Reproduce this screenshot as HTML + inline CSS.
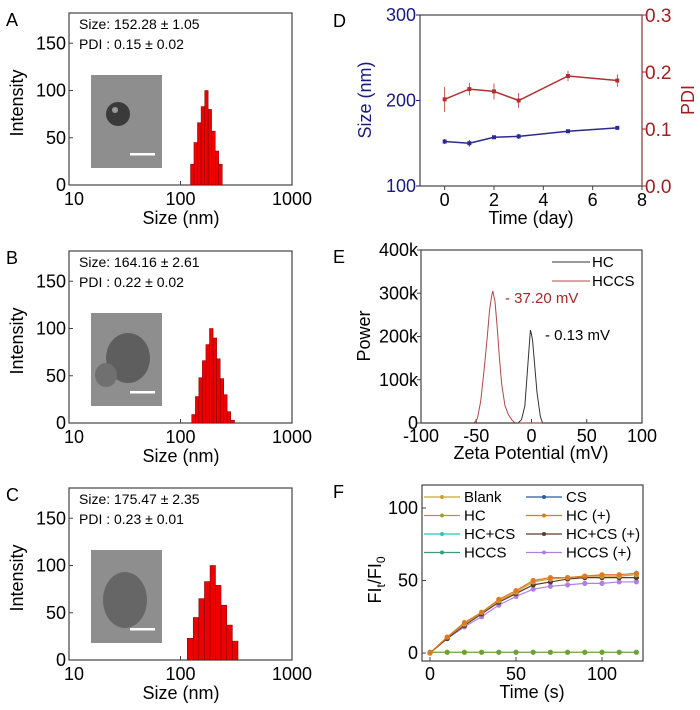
<!DOCTYPE html>
<html><head><meta charset="utf-8">
<style>
html,body{margin:0;padding:0;background:#fff;}
svg{display:block;font-family:"Liberation Sans",Arial,sans-serif;}
</style></head>
<body>
<svg id="fig" width="700" height="710" viewBox="0 0 700 710">
 <g id="gA"></g>
 <g id="gB"></g>
 <g id="gC"></g>
 <g id="gD"></g>
 <g id="gE"></g>
 <g id="gF"></g>
</svg>
<script>
// ---- Panel A/B/C data (bin edges in nm) ----
const binEdgesA = [123,132,142,153,165,177,190,205,220,237];
const heightsA  = [22,45,66,83,100,80,57,36,22];
const binEdgesB = [126,136,146,157,169,182,196,211,227,244,262,282,305];
const heightsB  = [9,28,48,66,83,100,90,68,47,30,12,3];
const binEdgesC = [115,130,146,164,184,206,231,260,292,328];
const heightsC  = [23,45,65,83,100,79,58,37,20];
const textsA = ["Size: 152.28 \u00b1 1.05","PDI : 0.15 \u00b1 0.02"];
const textsB = ["Size: 164.16 \u00b1 2.61","PDI : 0.22 \u00b1 0.02"];
const textsC = ["Size: 175.47 \u00b1 2.35","PDI : 0.23 \u00b1 0.01"];
const histYTicks = [0,50,100,150];
const histXTicks = [10,100,1000];
// ---- Panel D ----
const daysD = [0,1,2,3,5,7];
const sizeD = [152,150,157,158,164,168];
const sizeErrD = [3,4,2,3,2,2];
const pdiD = [0.152,0.170,0.166,0.150,0.193,0.185];
const pdiErrD = [0.022,0.011,0.014,0.013,0.009,0.011];
const dXTicks = [0,2,4,6,8];
const dYLTicks = [100,200,300];
const dYRTicks = ["0.0","0.1","0.2","0.3"];
// ---- Panel E ----
const hcX = [-100,-12,-9,-6,-4,-2,-1,0,1,3,5,8,10,100];
const hcY = [0,0,8,40,110,180,215,205,190,130,70,15,0,0];
const hccsX = [-100,-52,-49,-46,-43,-40,-38,-36,-35,-33,-31,-29,-27,-24,-21,-18,-15,100];
const hccsY = [0,0,10,50,120,200,260,295,305,280,220,150,90,40,20,8,0,0];
const eXTicks = [-100,-50,0,50,100];
const eYTicks = ["0","100k","200k","300k","400k"];
// ---- Panel F ----
const timeF = [0,10,20,30,40,50,60,70,80,90,100,110,120];
const hcPlus   = [0,11,21,28,37,43,50,52,52,53,54,54,55];
const hccsPlusMid = [0,11,20,28,36,42,49,51,52,53,53,53,54];
const hccsCsPlus = [0,10,19,27,35,41,47,49,51,52,52,52,52];
const hccsPlus = [0,10,18,25,33,39,44,46,47,48,48,49,49];
const flatF    = [0.5,0.5,0.5,0.5,0.5,0.5,0.5,0.5,0.5,0.5,0.5,0.5,0.5];
const fXTicks = [0,50,100];
const fYTicks = [0,50,100];
const legendF = ["Blank","CS","HC","HC (+)","HC+CS","HC+CS (+)","HCCS","HCCS (+)"];
const legendColors = ["#c9a23a","#2a5a9a","#a0a040","#e07a20","#30c0c0","#5a3a2a","#3a9a7a","#b080e0"];

const NS="http://www.w3.org/2000/svg";
function mk(parent,tag,attrs,name,text){
  const el=document.createElementNS(NS,tag);
  for(const k in attrs) el.setAttribute(k,attrs[k]);
  
  
  if(text!==undefined) el.textContent=text;
  parent.appendChild(el); return el;
}
function box(g,l,t,r,b){ mk(g,'rect',{x:l,y:t,width:r-l,height:b-t,fill:'none',stroke:'#444','stroke-width':1.2},'plot-frame'); }

function hist(g,top,edges,heights,texts,letter){
  const L=69,R=292,B=top+172;
  const sx=v=>L+(Math.log10(v)-1)*111.5;
  const sy=v=>B-v*0.945;
  mk(g,'text',{x:6,y:top+13,'font-size':18},'panel-label',letter);
  box(g,L,top,R,B);
  histYTicks.forEach(v=>{
    mk(g,'line',{x1:L,x2:L+4,y1:sy(v),y2:sy(v),stroke:'#444'},'y-tick');
    mk(g,'text',{x:L-3,y:sy(v)+6,'font-size':18,'text-anchor':'end'},'y-tick-label',String(v));
  });
  histXTicks.forEach(v=>{
    mk(g,'line',{x1:sx(v),x2:sx(v),y1:B,y2:B-4,stroke:'#444'},'x-tick');
    mk(g,'text',{x:sx(v)+(v===10?5:0),y:B+20,'font-size':18,'text-anchor':'middle'},'x-tick-label',String(v));
  });
  mk(g,'text',{x:181,y:B+39,'font-size':18,'text-anchor':'middle'},'x-axis-title','Size (nm)');
  mk(g,'text',{x:0,y:0,'font-size':18,'text-anchor':'middle',transform:`translate(23,${top+90}) rotate(-90)`},'y-axis-title','Intensity');
  heights.forEach((h,i)=>{
    const x0=sx(edges[i]),x1=sx(edges[i+1]);
    mk(g,'rect',{x:x0,y:sy(h),width:x1-x0,height:B-sy(h),fill:'#ee0000',stroke:'#7a0000','stroke-width':0.5},'histogram-bar');
  });
  mk(g,'text',{x:79,y:top+16,'font-size':14},'size-annotation',texts[0]);
  mk(g,'text',{x:79,y:top+36,'font-size':14},'pdi-annotation',texts[1]);
}
function inset(g,y,kind){
  mk(g,'rect',{x:91,y:y,width:71,height:93,fill:'#8e8e8e'},'tem-inset');
  if(kind===0){
    mk(g,'circle',{cx:118,cy:y+39,r:12,fill:'#3a3a3a'},'tem-particle');
    mk(g,'circle',{cx:115,cy:y+35,r:3,fill:'#9a9a9a'},'tem-particle-spot');
  } else if(kind===1){
    mk(g,'ellipse',{cx:128,cy:y+45,rx:22,ry:25,fill:'#5e5e5e'},'tem-particle');
    mk(g,'ellipse',{cx:106,cy:y+62,rx:11,ry:12,fill:'#707070'},'tem-particle');
  } else {
    mk(g,'ellipse',{cx:125,cy:y+50,rx:22,ry:28,fill:'#666'},'tem-particle');
  }
  mk(g,'rect',{x:130,y:y+78,width:25,height:2.5,fill:'#fff'},'scale-bar');
}
const gA=document.getElementById('gA'),gB=document.getElementById('gB'),gC=document.getElementById('gC');
inset(gA,75,0); inset(gB,313,1); inset(gC,550,2);
hist(gA,13,binEdgesA,heightsA,textsA,'A');
hist(gB,251,binEdgesB,heightsB,textsB,'B');
hist(gC,488,binEdgesC,heightsC,textsC,'C');

// ---- Panel D ----
(function(){
  const g=document.getElementById('gD');
  const L=420,R=642,T=15,B=186;
  const sx=v=>L+(v+1)*(R-L)/9, syl=v=>B-(v-100)*(B-T)/200, syr=v=>B-v*(B-T)/0.3;
  mk(g,'text',{x:333,y:27,'font-size':18},'panel-label','D');
  box(g,L,T,R,B);
  mk(g,'line',{x1:R,x2:R,y1:T,y2:B,stroke:'#a05050','stroke-width':1.2},'right-axis-line');
  dXTicks.forEach(v=>{mk(g,'line',{x1:sx(v),x2:sx(v),y1:B,y2:B+4,stroke:'#444'},'x-tick');
    mk(g,'text',{x:sx(v),y:B+20,'font-size':18,'text-anchor':'middle'},'x-tick-label',String(v));});
  dYLTicks.forEach(v=>{mk(g,'line',{x1:L-4,x2:L,y1:syl(v),y2:syl(v),stroke:'#1a1a80'},'y-tick-left');
    mk(g,'text',{x:L-4,y:syl(v)+6,'font-size':18,'text-anchor':'end',fill:'#1a1a80'},'y-tick-label-left',String(v));});
  dYRTicks.forEach(v=>{mk(g,'line',{x1:R,x2:R+4,y1:syr(+v),y2:syr(+v),stroke:'#a02020'},'y-tick-right');
    mk(g,'text',{x:R+3,y:syr(+v)+7,'font-size':19,fill:'#a02020'},'y-tick-label-right',v);});
  mk(g,'text',{x:531,y:224,'font-size':18,'text-anchor':'middle'},'x-axis-title','Time (day)');
  mk(g,'text',{x:0,y:0,'font-size':18,'text-anchor':'middle',fill:'#1a1a80',transform:'translate(371,100) rotate(-90)'},'y-axis-title-left','Size (nm)');
  mk(g,'text',{x:0,y:0,'font-size':18,'text-anchor':'middle',fill:'#a02020',transform:'translate(694,100) rotate(-90)'},'y-axis-title-right','PDI');
  function series(vals,errs,sy,col,nm){
    mk(g,'polyline',{points:daysD.map((d,i)=>sx(d)+','+sy(vals[i])).join(' '),fill:'none',stroke:col,'stroke-width':1.5},nm+'-line');
    daysD.forEach((d,i)=>{
      const x=sx(d);
      mk(g,'line',{x1:x,x2:x,y1:sy(vals[i]-errs[i]),y2:sy(vals[i]+errs[i]),stroke:col,'stroke-width':0.8},nm+'-errorbar');
      mk(g,'rect',{x:x-2,y:sy(vals[i])-2,width:4,height:4,fill:col},nm+'-point');
    });
  }
  series(sizeD,sizeErrD,syl,'#2a2a90','size');
  series(pdiD,pdiErrD,syr,'#b03030','pdi');
})();

// ---- Panel E ----
(function(){
  const g=document.getElementById('gE');
  const L=421,R=642,T=250,B=423;
  const sx=v=>L+(v+100)*(R-L)/200, sy=v=>B-v*(B-T)/400;
  mk(g,'text',{x:333,y:263,'font-size':18},'panel-label','E');
  box(g,L,T,R,B);
  eXTicks.forEach(v=>{mk(g,'line',{x1:sx(v),x2:sx(v),y1:B,y2:B-4,stroke:'#444'},'x-tick');
    mk(g,'text',{x:sx(v),y:B+19,'font-size':18,'text-anchor':'middle'},'x-tick-label',String(v));});
  eYTicks.forEach((v,i)=>{const y=sy(i*100);
    mk(g,'line',{x1:L-4,x2:L,y1:y,y2:y,stroke:'#444'},'y-tick');
    mk(g,'text',{x:L-3,y:y+6,'font-size':18,'text-anchor':'end'},'y-tick-label',v);});
  mk(g,'text',{x:531,y:459,'font-size':18,'text-anchor':'middle'},'x-axis-title','Zeta Potential (mV)');
  mk(g,'text',{x:0,y:0,'font-size':18,'text-anchor':'middle',transform:'translate(370,336) rotate(-90)'},'y-axis-title','Power');
  mk(g,'polyline',{points:hccsX.map((x,i)=>sx(x)+','+sy(hccsY[i])).join(' '),fill:'none',stroke:'#b04848','stroke-width':1},'hccs-curve');
  mk(g,'polyline',{points:hcX.map((x,i)=>sx(x)+','+sy(hcY[i])).join(' '),fill:'none',stroke:'#333','stroke-width':1},'hc-curve');
  mk(g,'line',{x1:552,x2:590,y1:262,y2:262,stroke:'#333'},'legend-hc-line');
  mk(g,'text',{x:592,y:267,'font-size':15},'legend-hc-label','HC');
  mk(g,'line',{x1:552,x2:590,y1:281,y2:281,stroke:'#b04848'},'legend-hccs-line');
  mk(g,'text',{x:592,y:286,'font-size':15},'legend-hccs-label','HCCS');
  mk(g,'text',{x:505,y:303,'font-size':15,fill:'#a02828'},'hccs-annotation','- 37.20 mV');
  mk(g,'text',{x:545,y:340,'font-size':15},'hc-annotation','- 0.13 mV');
})();

// ---- Panel F ----
(function(){
  const g=document.getElementById('gF');
  const L=422,R=643,T=485,B=661;
  const sx=v=>430+v*1.72, sy=v=>653-v*1.45;
  mk(g,'text',{x:333,y:498,'font-size':18},'panel-label','F');
  box(g,L,T,R,B);
  fXTicks.forEach(v=>{mk(g,'line',{x1:sx(v),x2:sx(v),y1:B,y2:B-4,stroke:'#444'},'x-tick');
    mk(g,'text',{x:sx(v),y:B+19,'font-size':18,'text-anchor':'middle'},'x-tick-label',String(v));});
  fYTicks.forEach(v=>{mk(g,'line',{x1:L,x2:L+4,y1:sy(v),y2:sy(v),stroke:'#444'},'y-tick');
    mk(g,'text',{x:L-4,y:sy(v)+6,'font-size':18,'text-anchor':'end'},'y-tick-label',String(v));});
  mk(g,'text',{x:532,y:698,'font-size':18,'text-anchor':'middle'},'x-axis-title','Time (s)');
  const yt=mk(g,'text',{x:0,y:0,'font-size':18,'text-anchor':'middle',transform:'translate(381,580) rotate(-90)'},'y-axis-title','FI');
  const s1=document.createElementNS(NS,'tspan'); s1.setAttribute('font-size','12'); s1.setAttribute('dy','4'); s1.textContent='t'; yt.appendChild(s1);
  const s2=document.createElementNS(NS,'tspan'); s2.setAttribute('dy','-4'); s2.textContent='/FI'; yt.appendChild(s2);
  const s3=document.createElementNS(NS,'tspan'); s3.setAttribute('font-size','12'); s3.setAttribute('dy','4'); s3.textContent='0'; yt.appendChild(s3);
  function series(vals,col,nm){
    mk(g,'polyline',{points:timeF.map((t,i)=>sx(t)+','+sy(vals[i])).join(' '),fill:'none',stroke:col,'stroke-width':1.2},nm+'-line');
    timeF.forEach((t,i)=>mk(g,'circle',{cx:sx(t),cy:sy(vals[i]),r:2.6,fill:col},nm+'-point'));
  }
  series(flatF,'#6aa040','flat-controls');
  series(hccsPlus,'#b080e0','hccs-plus');
  series(hccsCsPlus,'#5a3a2a','hc-cs-plus');
  series(hccsPlusMid,'#c9a23a','blank-ref');
  series(hcPlus,'#e07a20','hc-plus');
  legendF.forEach((lab,i)=>{
    const col=i%2, row=Math.floor(i/2);
    const x=col?526:424, y=497+row*18.5;
    mk(g,'line',{x1:x,x2:x+36,y1:y,y2:y,stroke:legendColors[i],'stroke-width':1.2},'legend-line');
    mk(g,'circle',{cx:x+18,cy:y,r:2,fill:legendColors[i]},'legend-marker');
    mk(g,'text',{x:x+40,y:y+5,'font-size':15},'legend-label',lab);
  });
})();
</script>
</body></html>
